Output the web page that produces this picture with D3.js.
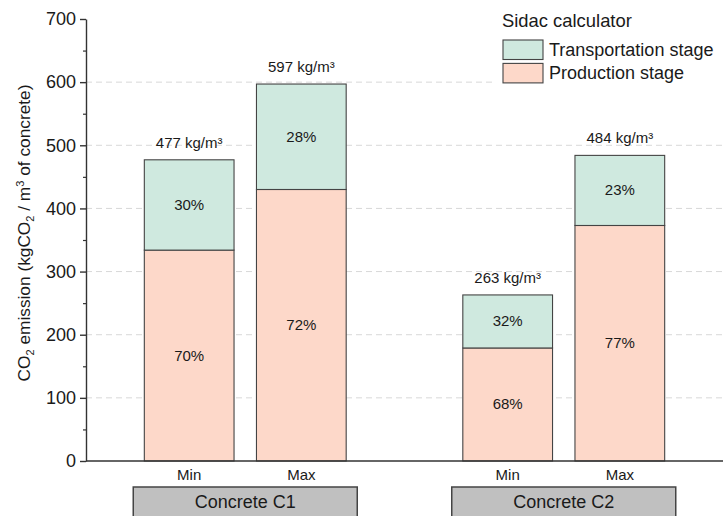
<!DOCTYPE html>
<html>
<head>
<meta charset="utf-8">
<script src="https://cdn.jsdelivr.net/npm/d3@7"></script>
<style>
  html, body { margin: 0; padding: 0; background: #fff; }
  svg { display: block; font-family: Arial, "Liberation Sans", sans-serif; }
</style>
</head>
<body>
<svg id="chart" width="723" height="516"></svg>
<script>
// Concrete groups and the min/max scenario for each
const groups = ["Concrete C1", "Concrete C2"];
const scenarios = ["Min", "Max"];
// CO2 emission per stage (kgCO2 / m³), in order C1 Min, C1 Max, C2 Min, C2 Max
const production = [334, 430, 179, 373];
const transportation = [143, 167, 84, 111];
const yTicks = [0, 100, 200, 300, 400, 500, 600, 700];
const stageNames = ["Transportation stage", "Production stage"];
const stageColors = ["#cfe9df", "#fdd8c9"];

const svg = d3.select("#chart");
const W = 723, H = 516;
const plotLeft = 86, plotRight = 723, plotBottom = 461, plotTop = 19;

const y = d3.scaleLinear().domain([0, 700]).range([plotBottom, plotTop]);
const xGroup = d3.scaleBand().domain(groups).range([plotLeft, plotRight]).padding(0);
const xInner = d3.scaleBand().domain(scenarios).range([0, xGroup.bandwidth()])
  .paddingInner(0.2).paddingOuter(0.52);

const rows = [];
groups.forEach((g, gi) => scenarios.forEach((s, si) => {
  const i = gi * 2 + si;
  rows.push({ group: g, scen: s, prod: production[i], trans: transportation[i] });
}));
const bx = d => xGroup(d.group) + xInner(d.scen);
const bw = xInner.bandwidth();

// dashed horizontal gridlines at each major tick
svg.append("g").selectAll("line")
  .data(yTicks.filter(t => t > 0 && t < 700))
  .join("line")
  .attr("x1", plotLeft).attr("x2", W)
  .attr("y1", d => y(d)).attr("y2", d => y(d))
  .attr("stroke", "#d8d8d8").attr("stroke-width", 1)
  .attr("stroke-dasharray", "6,4");

// legend backdrop hides the gridline behind it
svg.append("rect").attr("x", 494).attr("y", 0).attr("width", W - 494).attr("height", 90).attr("fill", "#fff");

// stacked bars
const bars = svg.append("g");
rows.forEach(d => {
  const total = d.prod + d.trans;
  bars.append("rect")
    .attr("x", bx(d)).attr("width", bw)
    .attr("y", y(d.prod)).attr("height", y(0) - y(d.prod))
    .attr("fill", stageColors[1]).attr("stroke", "#444").attr("stroke-width", 1.1);
  bars.append("rect")
    .attr("x", bx(d)).attr("width", bw)
    .attr("y", y(total)).attr("height", y(d.prod) - y(total))
    .attr("fill", stageColors[0]).attr("stroke", "#444").attr("stroke-width", 1.1);
  const cx = bx(d) + bw / 2;
  bars.append("text").attr("x", cx).attr("y", (y(0) + y(d.prod)) / 2 + 5)
    .attr("text-anchor", "middle").attr("font-size", 15).attr("fill", "#1a1a1a")
    .text(Math.round(d.prod / total * 100) + "%");
  bars.append("text").attr("x", cx).attr("y", (y(d.prod) + y(total)) / 2 + 5)
    .attr("text-anchor", "middle").attr("font-size", 15).attr("fill", "#1a1a1a")
    .text(Math.round(d.trans / total * 100) + "%");
  bars.append("text").attr("x", cx).attr("y", y(total) - 12)
    .attr("text-anchor", "middle").attr("font-size", 15).attr("fill", "#1a1a1a")
    .text(total + " kg/m³");
});

// y axis with minor ticks
const yAxis = svg.append("g").attr("transform", `translate(${plotLeft},0)`)
  .call(d3.axisLeft(y).tickValues(yTicks).tickSize(6).tickPadding(4).tickSizeOuter(0));
yAxis.selectAll("text").attr("font-size", 18).attr("fill", "#1a1a1a").attr("font-family", "Arial, 'Liberation Sans', sans-serif");
yAxis.select(".domain").attr("stroke", "#333").attr("stroke-width", 1.4);
yAxis.selectAll(".tick line").attr("stroke", "#333").attr("stroke-width", 1.4);
svg.append("g").attr("transform", `translate(${plotLeft},0)`)
  .call(d3.axisLeft(y).tickValues(d3.range(50, 700, 100)).tickSize(3).tickFormat(""))
  .call(g => g.select(".domain").remove())
  .selectAll("line").attr("stroke", "#333").attr("stroke-width", 1.2);

// x axis line
svg.append("line").attr("x1", plotLeft).attr("x2", W).attr("y1", y(0)).attr("y2", y(0))
  .attr("stroke", "#333").attr("stroke-width", 1.6);

// scenario labels
svg.append("g").selectAll("text").data(rows).join("text")
  .attr("x", d => bx(d) + bw / 2).attr("y", 480)
  .attr("text-anchor", "middle").attr("font-size", 15).attr("fill", "#1a1a1a")
  .text(d => d.scen);

// group label boxes
const gl = svg.append("g").selectAll("g").data(groups).join("g");
gl.append("rect")
  .attr("x", d => xGroup(d) + xGroup.bandwidth() / 2 - 112).attr("y", 487)
  .attr("width", 224).attr("height", 40)
  .attr("fill", "#c0c0c0").attr("stroke", "#444").attr("stroke-width", 1.5);
gl.append("text")
  .attr("x", d => xGroup(d) + xGroup.bandwidth() / 2).attr("y", 508)
  .attr("text-anchor", "middle").attr("font-size", 18).attr("fill", "#1a1a1a")
  .text(d => d);

// y axis title with sub/superscripts
const yt = svg.append("text")
  .attr("transform", `translate(30,233) rotate(-90)`)
  .attr("text-anchor", "middle").attr("font-size", 17.3).attr("fill", "#1a1a1a");
yt.append("tspan").text("CO");
yt.append("tspan").attr("font-size", 11).attr("dy", 4).text("2");
yt.append("tspan").attr("dy", -4).text(" emission (kgCO");
yt.append("tspan").attr("font-size", 11).attr("dy", 4).text("2");
yt.append("tspan").attr("dy", -4).text(" / m");
yt.append("tspan").attr("font-size", 11).attr("dy", -6).text("3");
yt.append("tspan").attr("dy", 6).text(" of concrete)");

// legend
const lg = svg.append("g");
lg.append("text").attr("x", 502).attr("y", 27).attr("font-size", 18.4).attr("fill", "#1a1a1a").text("Sidac calculator");
stageNames.forEach((n, i) => {
  lg.append("rect").attr("x", 503).attr("y", 40 + i * 23.4).attr("width", 40).attr("height", 19.5)
    .attr("fill", stageColors[i]).attr("stroke", "#444").attr("stroke-width", 1.1);
  lg.append("text").attr("x", 549).attr("y", 56 + i * 23.4).attr("font-size", 18).attr("fill", "#1a1a1a").text(n);
});
</script>
</body>
</html>
